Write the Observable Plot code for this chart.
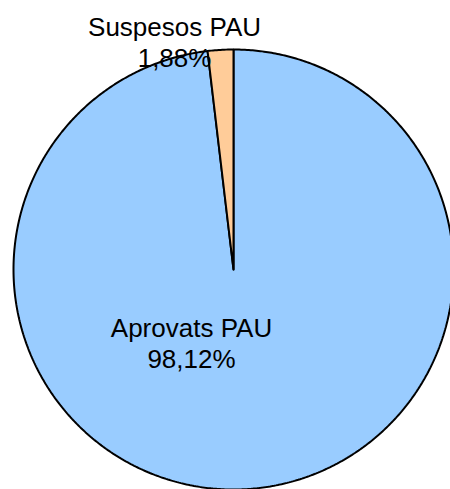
<!DOCTYPE html>
<html>
<head>
<meta charset="utf-8">
<script src="https://cdn.jsdelivr.net/npm/d3@7"></script>
<script src="https://cdn.jsdelivr.net/npm/@observablehq/plot@0.6"></script>
<style>
  html, body { margin: 0; padding: 0; background: #fff; }
  svg { overflow: hidden; }
</style>
</head>
<body>
<div id="chart"></div>
<script>
const categories = ["Aprovats PAU", "Suspesos PAU"];
const values = [98.12, 1.88];
const labels = ["Aprovats PAU\n98,12%", "Suspesos PAU\n1,88%"];
const colors = ["#99CCFF", "#FFCC99"];

const pie = d3.pie().sort(null).value(d => d.value).startAngle(0).endAngle(2 * Math.PI);
const arcs = pie(categories.map((c, i) => ({category: c, value: values[i]})));

const pts = [];
for (const a of arcs) {
  const c = a.data.category;
  pts.push({category: c, X: 0, Y: 0});
  const n = Math.max(2, Math.ceil((a.endAngle - a.startAngle) / (Math.PI / 360)));
  for (let k = 0; k <= n; k++) {
    const t = a.startAngle + (a.endAngle - a.startAngle) * k / n;
    pts.push({category: c, X: Math.sin(t), Y: Math.cos(t)});
  }
  pts.push({category: c, X: 0, Y: 0});
}

const labelData = [
  {text: labels[0], X: -0.191, Y: -0.207},
  {text: labels[1], X: -0.268, Y: 1.161}
];

const chart = Plot.plot({
  width: 450,
  height: 489,
  margin: 0,
  x: {domain: [-1, 1], range: [13, 453], axis: null},
  y: {domain: [-1, 1], range: [489, 49], axis: null},
  color: {domain: categories, range: colors},
  style: {fontFamily: "'Liberation Sans', Arial, sans-serif", background: "#fff"},
  marks: [
    Plot.line(pts, {x: "X", y: "Y", z: "category", fill: "category", stroke: "black", strokeWidth: 2, strokeLinejoin: "miter", curve: "linear"}),
    Plot.text(labelData, {x: "X", y: "Y", text: "text", fontSize: 26, lineHeight: 1.2, lineAnchor: "top", textAnchor: "middle", fill: "black"})
  ]
});
document.getElementById("chart").appendChild(chart);
</script>
</body>
</html>
